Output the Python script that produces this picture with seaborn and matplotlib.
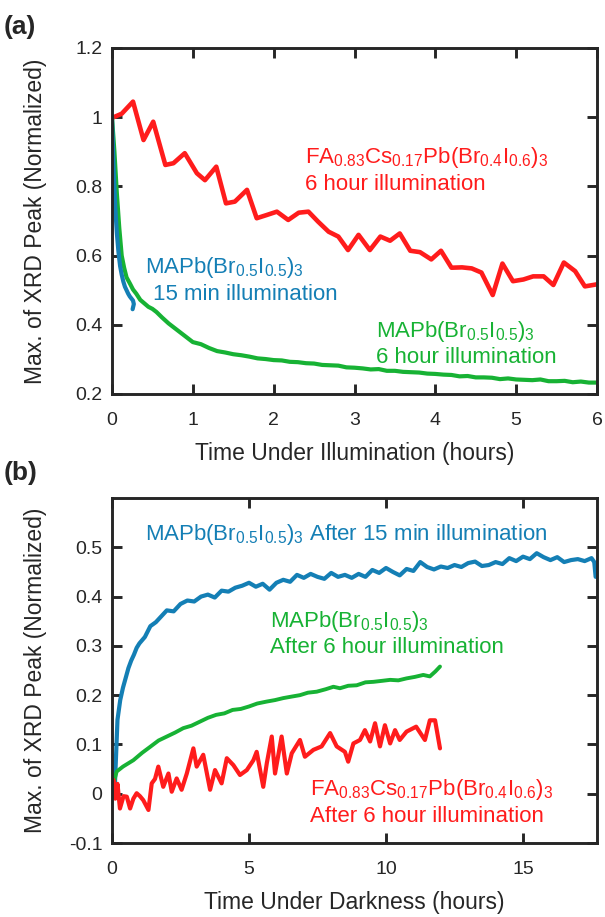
import numpy as np
import pandas as pd
import matplotlib
matplotlib.use("Agg")
import matplotlib.pyplot as plt
import seaborn as sns
from matplotlib.ticker import FuncFormatter

# ---------------- data: panel (a) ----------------
a_red_t = [0.02, 0.12, 0.26, 0.39, 0.51, 0.66, 0.76, 0.90, 1.05, 1.15, 1.29, 1.41, 1.52,
           1.67, 1.79, 1.91, 2.04, 2.18, 2.31, 2.43, 2.55, 2.68, 2.80, 2.92, 3.05, 3.19,
           3.32, 3.44, 3.56, 3.69, 3.81, 3.95, 4.07, 4.20, 4.33, 4.45, 4.57, 4.71, 4.83,
           4.96, 5.09, 5.21, 5.34, 5.46, 5.59, 5.73, 5.85, 6.00]
a_red_v = [1.00, 1.01, 1.045, 0.934, 0.987, 0.862, 0.867, 0.896, 0.838, 0.818, 0.857, 0.751,
           0.756, 0.790, 0.708, 0.717, 0.727, 0.703, 0.724, 0.727, 0.698, 0.669, 0.655, 0.616,
           0.660, 0.616, 0.655, 0.643, 0.664, 0.614, 0.610, 0.589, 0.614, 0.565, 0.566, 0.563,
           0.551, 0.486, 0.577, 0.526, 0.531, 0.540, 0.540, 0.515, 0.580, 0.555, 0.511, 0.517]

a_green_t = [0.00, 0.03, 0.06, 0.09, 0.12, 0.15, 0.18, 0.22, 0.26, 0.30, 0.35, 0.40, 0.45,
             0.50, 0.55, 0.62, 0.70, 0.80, 0.90, 1.00, 1.10, 1.20, 1.30, 1.40, 1.50, 1.60,
             1.70, 1.80, 1.90, 2.00, 2.10, 2.20, 2.30, 2.40, 2.50, 2.60, 2.70, 2.80, 2.90,
             3.00, 3.10, 3.20, 3.30, 3.40, 3.50, 3.60, 3.70, 3.80, 3.90, 4.00, 4.10, 4.20,
             4.30, 4.40, 4.50, 4.60, 4.70, 4.80, 4.90, 5.00, 5.10, 5.20, 5.30, 5.40, 5.50,
             5.60, 5.70, 5.80, 5.90, 6.00]
a_green_v = [1.000, 0.900, 0.780, 0.680, 0.600, 0.565, 0.537, 0.520, 0.502, 0.490, 0.472, 0.462,
             0.452, 0.446, 0.437, 0.421, 0.404, 0.386, 0.368, 0.350, 0.344, 0.333, 0.324, 0.320,
             0.315, 0.312, 0.308, 0.303, 0.301, 0.298, 0.297, 0.293, 0.292, 0.289, 0.288, 0.284,
             0.283, 0.282, 0.277, 0.276, 0.274, 0.271, 0.272, 0.267, 0.267, 0.264, 0.263, 0.262,
             0.259, 0.258, 0.256, 0.255, 0.251, 0.252, 0.248, 0.248, 0.247, 0.243, 0.245, 0.242,
             0.241, 0.240, 0.242, 0.237, 0.237, 0.238, 0.234, 0.236, 0.233, 0.233]

a_blue_t = [0.00, 0.02, 0.04, 0.06, 0.08, 0.10, 0.12, 0.14, 0.16, 0.18, 0.20, 0.22, 0.24,
            0.26, 0.27, 0.255]
a_blue_v = [1.000, 0.850, 0.740, 0.665, 0.610, 0.570, 0.545, 0.525, 0.510, 0.500, 0.490, 0.482,
            0.476, 0.470, 0.460, 0.445]

# ---------------- data: panel (b) ----------------
b_blue_t = [0.05, 0.10, 0.15, 0.20, 0.25, 0.30, 0.40, 0.50, 0.60, 0.70, 0.80, 0.90, 1.00,
            1.20, 1.40, 1.60, 1.80, 2.00, 2.25, 2.50, 2.75, 3.00, 3.25, 3.50, 3.75, 4.00,
            4.25, 4.50, 4.75, 5.00, 5.25, 5.50, 5.75, 6.00, 6.25, 6.50, 6.75, 7.00, 7.25,
            7.50, 7.75, 8.00, 8.25, 8.50, 8.75, 9.00, 9.25, 9.50, 9.75, 10.00, 10.25, 10.50,
            10.75, 11.00, 11.25, 11.50, 11.75, 12.00, 12.25, 12.50, 12.75, 13.00, 13.25, 13.50,
            13.75, 14.00, 14.25, 14.50, 14.75, 15.00, 15.25, 15.50, 15.75, 16.00, 16.25, 16.50,
            16.75, 17.00, 17.25, 17.50, 17.60, 17.65]
b_blue_v = [0.000, 0.010, 0.080, 0.150, 0.170, 0.190, 0.215, 0.235, 0.255, 0.270, 0.282, 0.296,
            0.305, 0.318, 0.340, 0.348, 0.360, 0.372, 0.370, 0.385, 0.392, 0.390, 0.400, 0.404,
            0.398, 0.412, 0.410, 0.418, 0.422, 0.428, 0.420, 0.426, 0.414, 0.428, 0.434, 0.430,
            0.444, 0.438, 0.446, 0.440, 0.436, 0.448, 0.440, 0.444, 0.438, 0.446, 0.440, 0.454,
            0.448, 0.458, 0.450, 0.443, 0.456, 0.452, 0.470, 0.460, 0.455, 0.461, 0.458, 0.464,
            0.460, 0.468, 0.471, 0.462, 0.464, 0.470, 0.466, 0.478, 0.472, 0.481, 0.476, 0.488,
            0.480, 0.474, 0.480, 0.470, 0.474, 0.476, 0.472, 0.478, 0.470, 0.440]

b_green_t = [0.00, 0.05, 0.17, 0.40, 0.78, 1.10, 1.39, 1.70, 2.00, 2.30, 2.60, 2.90, 3.20,
             3.50, 3.80, 4.10, 4.40, 4.70, 5.00, 5.30, 5.65, 5.95, 6.25, 6.55, 6.86, 7.15,
             7.47, 7.80, 8.08, 8.32, 8.62, 8.93, 9.25, 9.54, 9.85, 10.15, 10.45, 10.75, 11.05,
             11.36, 11.60, 11.80, 11.97]
b_green_v = [0.000, 0.020, 0.045, 0.055, 0.068, 0.083, 0.095, 0.108, 0.116, 0.124, 0.133, 0.138,
             0.146, 0.154, 0.160, 0.163, 0.170, 0.172, 0.177, 0.183, 0.187, 0.190, 0.194, 0.197,
             0.200, 0.205, 0.207, 0.212, 0.217, 0.214, 0.219, 0.220, 0.226, 0.227, 0.229, 0.231,
             0.230, 0.234, 0.237, 0.241, 0.238, 0.248, 0.258]

b_red_t = [0.00, 0.05, 0.12, 0.20, 0.29, 0.42, 0.54, 0.66, 0.78, 0.90, 1.02, 1.14, 1.33,
           1.45, 1.57, 1.69, 1.87, 2.06, 2.18, 2.36, 2.54, 2.73, 2.97, 3.09, 3.33, 3.58,
           3.76, 4.00, 4.19, 4.43, 4.67, 4.92, 5.16, 5.28, 5.52, 5.65, 5.83, 5.95, 6.19,
           6.38, 6.56, 6.86, 7.04, 7.35, 7.65, 7.96, 8.20, 8.50, 8.62, 8.81, 9.05, 9.23,
           9.42, 9.60, 9.78, 9.96, 10.15, 10.33, 10.50, 10.75, 11.10, 11.42, 11.60, 11.79,
           11.97]
b_red_v = [0.000, 0.028, -0.010, 0.020, -0.030, -0.005, -0.006, -0.030, -0.010, 0.001, -0.005,
           -0.013, -0.033, 0.021, 0.030, 0.055, 0.014, 0.041, 0.004, 0.031, 0.008, 0.041,
           0.092, 0.055, 0.079, 0.008, 0.048, 0.021, 0.072, 0.058, 0.038, 0.048, 0.068,
           0.085, 0.014, 0.062, 0.116, 0.041, 0.116, 0.041, 0.082, 0.109, 0.075, 0.089,
           0.096, 0.123, 0.096, 0.085, 0.065, 0.102, 0.109, 0.129, 0.106, 0.143, 0.096,
           0.139, 0.102, 0.129, 0.109, 0.126, 0.136, 0.109, 0.149, 0.149, 0.092]

RED = "#ff1c1c"
GREEN = "#17b234"
BLUE = "#147fb5"
DARK = "#262626"

sns.set_style("ticks")
plt.rcParams["font.family"] = ["Liberation Sans", "DejaVu Sans"]
plt.rcParams["mathtext.fontset"] = "custom"
plt.rcParams["mathtext.rm"] = "Liberation Sans"
plt.rcParams["mathtext.it"] = "Liberation Sans:italic"
plt.rcParams["mathtext.bf"] = "Liberation Sans:bold"
plt.rcParams["axes.unicode_minus"] = False

fig = plt.figure(figsize=(6.05, 9.17), dpi=100)
axA = fig.add_axes([112 / 605, 1 - 394 / 917, 485 / 605, 346 / 917])
axB = fig.add_axes([112 / 605, 1 - 843 / 917, 485 / 605, 345 / 917])

def df(t, v):
    return pd.DataFrame({"t": t, "v": v})

# panel (a)
sns.lineplot(data=df(a_red_t, a_red_v), x="t", y="v", ax=axA, color=RED, lw=3.3, sort=False)
sns.lineplot(data=df(a_green_t, a_green_v), x="t", y="v", ax=axA, color=GREEN, lw=3.0, sort=False)
sns.lineplot(data=df(a_blue_t, a_blue_v), x="t", y="v", ax=axA, color=BLUE, lw=3.0, sort=False)

# panel (b)
sns.lineplot(data=df(b_blue_t, b_blue_v), x="t", y="v", ax=axB, color=BLUE, lw=3.0, sort=False)
sns.lineplot(data=df(b_green_t, b_green_v), x="t", y="v", ax=axB, color=GREEN, lw=2.8, sort=False)
sns.lineplot(data=df(b_red_t, b_red_v), x="t", y="v", ax=axB, color=RED, lw=3.0, sort=False)

fmt = FuncFormatter(lambda v, p: f"{v:g}" if abs(v) > 1e-9 else "0")
TICK_FS = 14
LAB_FS = 16.5
ANN_FS = 16

for ax in (axA, axB):
    for s in ax.spines.values():
        s.set_linewidth(2.1)
        s.set_color(DARK)
    ax.tick_params(direction="in", length=7, width=2.1, color=DARK, labelsize=TICK_FS,
                   labelcolor=DARK, top=True, right=True)
    ax.tick_params(axis="x", pad=13)
    ax.tick_params(axis="y", pad=7)
    ax.yaxis.set_major_formatter(fmt)
    ax.xaxis.set_major_formatter(fmt)
    ax.set_ylabel("Max. of XRD Peak (Normalized)", fontsize=LAB_FS, color=DARK)
    ax.yaxis.set_label_coords(-0.135, 0.5)

axA.set_xlim(0, 6)
axA.set_ylim(0.2, 1.2)
axA.set_xticks([0, 1, 2, 3, 4, 5, 6])
axA.set_yticks([0.2, 0.4, 0.6, 0.8, 1.0, 1.2])
axA.set_xlabel("Time Under Illumination (hours)", fontsize=LAB_FS, color=DARK, labelpad=9)

axB.set_xlim(0, 17.7)
axB.set_ylim(-0.1, 0.6)
axB.set_xticks([0, 5, 10, 15])
axB.set_yticks([-0.1, 0, 0.1, 0.2, 0.3, 0.4, 0.5])
axB.set_xlabel("Time Under Darkness (hours)", fontsize=LAB_FS, color=DARK, labelpad=9)

# annotations (a)
FA = r"FA$_{0.83}$Cs$_{0.17}$Pb(Br$_{0.4}$I$_{0.6}$)$_3$"
MA = r"MAPb(Br$_{0.5}$I$_{0.5}$)$_3$"
axA.text(2.39, 0.868, FA, color=RED, fontsize=ANN_FS, va="baseline")
axA.text(2.39, 0.790, "6 hour illumination", color=RED, fontsize=ANN_FS, va="baseline")
axA.text(0.41, 0.550, MA, color=BLUE, fontsize=ANN_FS, va="baseline")
axA.text(0.51, 0.472, "15 min illumination", color=BLUE, fontsize=ANN_FS, va="baseline")
axA.text(3.27, 0.365, MA, color=GREEN, fontsize=ANN_FS, va="baseline")
axA.text(3.27, 0.289, "6 hour illumination", color=GREEN, fontsize=ANN_FS, va="baseline")

# annotations (b)
axB.text(1.2, 0.515, MA + " After 15 min illumination", color=BLUE, fontsize=ANN_FS, va="baseline")
axB.text(5.77, 0.339, MA, color=GREEN, fontsize=ANN_FS, va="baseline")
axB.text(5.77, 0.285, "After 6 hour illumination", color=GREEN, fontsize=ANN_FS, va="baseline")
axB.text(7.23, -0.003, FA, color=RED, fontsize=ANN_FS, va="baseline")
axB.text(7.23, -0.057, "After 6 hour illumination", color=RED, fontsize=ANN_FS, va="baseline")

fig.text(4 / 605, 1 - 27 / 917, "(a)", fontsize=19, fontweight="bold", va="center", ha="left")
fig.text(4 / 605, 1 - 473 / 917, "(b)", fontsize=19, fontweight="bold", va="center", ha="left")

fig.savefig("out.png", dpi=100)
